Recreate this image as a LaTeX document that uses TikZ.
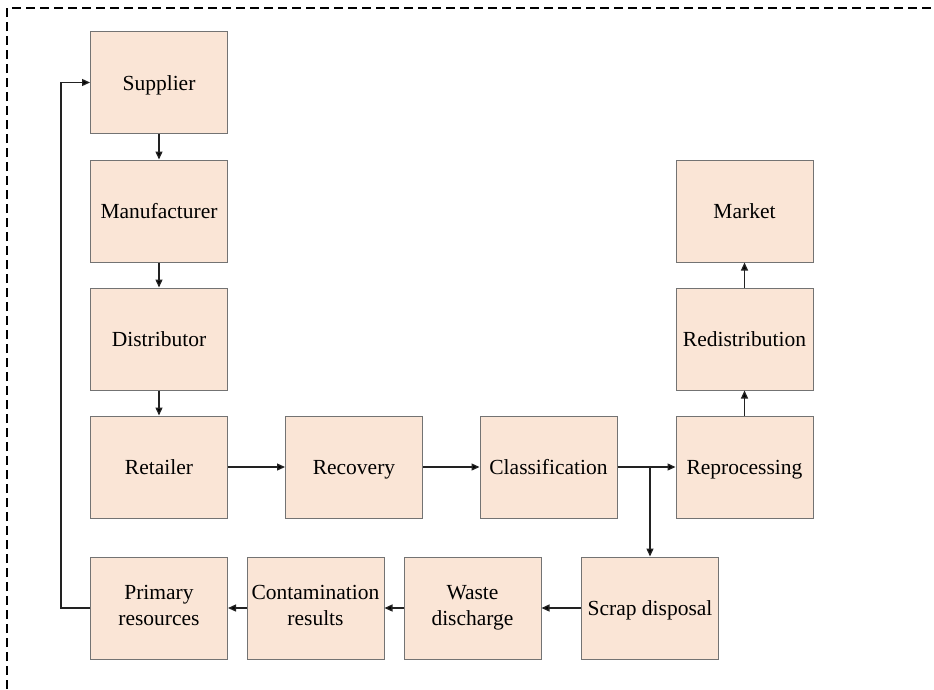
\documentclass[tikz,border=0pt]{standalone}
\usepackage{fontspec}
\setmainfont{Liberation Serif}
\usetikzlibrary{arrows.meta}
\definecolor{boxfill}{HTML}{FAE5D6}
\definecolor{boxline}{HTML}{737373}
\definecolor{lineclr}{HTML}{222222}
\newcommand{\boxstrut}{\rule[-5pt]{0pt}{25pt}}
\begin{document}
\begin{tikzpicture}[x=1pt,y=-1pt,
  box/.style={draw=boxline,line width=1pt,fill=boxfill,minimum width=137pt,minimum height=102pt,
    inner sep=0pt,align=center,font=\fontsize{21.5}{25.5}\selectfont,text=black,
    execute at begin node={\boxstrut},execute at end node={\boxstrut}},
  arr/.style={draw=lineclr,line width=1.3pt,-{Triangle[length=8pt,width=7pt,fill=black]}}]
\useasboundingbox (0,0) rectangle (934,689);
\draw[line width=1.4pt,dash pattern=on 9pt off 5pt] (7,689) -- (7,8) -- (934,8);
\node[box] (sup) at (159,82.5) {Supplier};
\node[box] (man) at (159,211) {Manufacturer};
\node[box] (dis) at (159,339) {Distributor};
\node[box] (ret) at (159,467) {Retailer};
\node[box] (rec) at (354,467) {Recovery};
\node[box] (cla) at (548.5,467) {Classification};
\node[box] (rep) at (744.5,467) {Reprocessing};
\node[box] (red) at (744.5,339) {Redistribution};
\node[box] (mar) at (744.5,211) {Market};
\node[box] (scr) at (650,608) {Scrap disposal};
\node[box] (was) at (472.5,608) {Waste\\discharge};
\node[box] (con) at (315.5,608) {Contamination\\results};
\node[box] (pri) at (159,608) {Primary\\resources};
\coordinate (br) at (650,467);
\coordinate (lb) at (61,608);
\coordinate (lt) at (61,82.5);
\draw[arr] (sup) -- (man);
\draw[arr] (man) -- (dis);
\draw[arr] (dis) -- (ret);
\draw[arr] (ret) -- (rec);
\draw[arr] (rec) -- (cla);
\draw[arr] (cla) -- (rep);
\draw[arr] (br) -- (scr);
\draw[arr] (rep) -- (red);
\draw[arr] (red) -- (mar);
\draw[arr] (scr) -- (was);
\draw[arr] (was) -- (con);
\draw[arr] (con) -- (pri);
\draw[arr] (pri.west) -- (lb) -- (lt) -- (sup.west);
\end{tikzpicture}
\end{document}
